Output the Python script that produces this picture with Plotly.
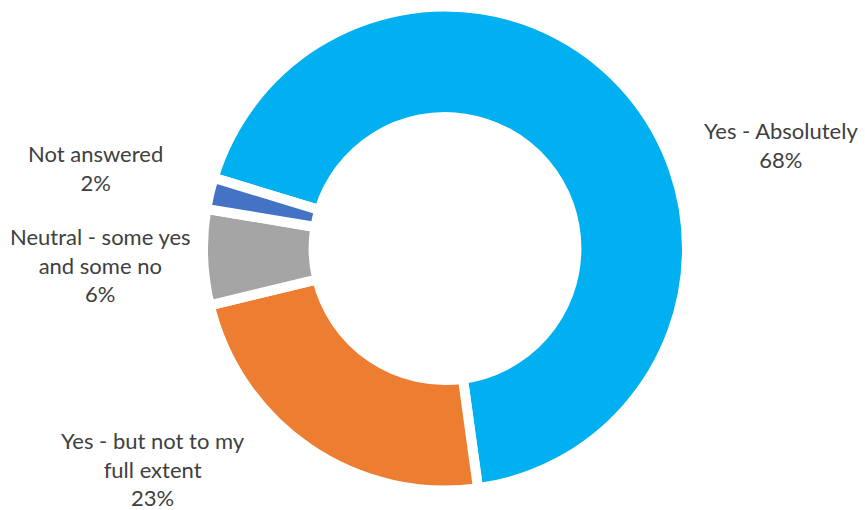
import plotly.graph_objects as go

W, H = 865, 510

labels = ["Yes - Absolutely", "Yes - but not to my full extent",
          "Neutral - some yes and some no", "Not answered"]
values = [68.1, 23.4, 6.4, 2.1]
colors = ["#00B0F0", "#ED7D31", "#A5A5A5", "#4472C4"]
label_texts = ["Yes - Absolutely<br>68%",
               "Yes - but not to my<br>full extent<br>23%",
               "Neutral - some yes<br>and some no<br>6%",
               "Not answered<br>2%"]
label_pos = [(781, 145), (152.5, 469), (100.5, 264.5), (95.7, 168.5)]

# pie geometry (pixels)
cx, cy, R = 445, 248.5, 242
fig = go.Figure(go.Pie(
    labels=labels, values=values, sort=False, direction="clockwise",
    rotation=-73, hole=0.543,
    marker=dict(colors=colors, line=dict(color="white", width=10)),
    textinfo="none", hoverinfo="label+percent",
    domain=dict(x=[(cx - R) / W, (cx + R) / W],
                y=[(H - cy - R) / H, (H - cy + R) / H]),
    showlegend=False,
))

for t, (px, py) in zip(label_texts, label_pos):
    fig.add_annotation(text=t, x=px / W, y=1 - py / H, xref="paper", yref="paper",
                       xanchor="center", yanchor="middle", showarrow=False,
                       font=dict(family="Lato", size=22, color="#404040"))

fig.update_layout(width=W, height=H, margin=dict(l=0, r=0, t=0, b=0),
                  paper_bgcolor="white", plot_bgcolor="white")
fig.write_html("out.html")
